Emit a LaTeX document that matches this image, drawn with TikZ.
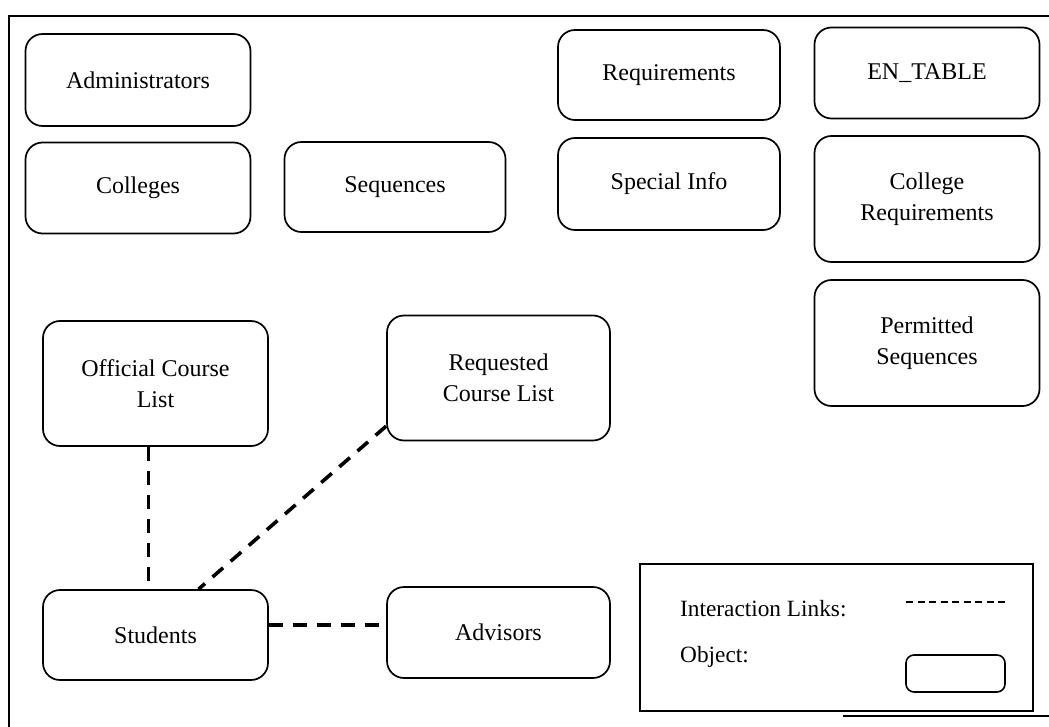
\documentclass[tikz,border=0pt]{standalone}
\usepackage{fontspec}
\setmainfont{Liberation Serif}
\usetikzlibrary{calc}

\tikzset{
  obj/.style={draw, line width=1.7pt, rectangle, rounded corners=17pt,
    align=center, font=\fontsize{24}{30.5}\selectfont, inner sep=0pt},
  link/.style={line width=3.6pt, dash pattern=on 14pt off 10pt},
  frameline/.style={line width=1.7pt},
  legendtext/.style={anchor=west, inner sep=0pt, font=\fontsize{23.3}{28}\selectfont},
}

\begin{document}
\begin{tikzpicture}[x=1pt,y=-1pt]
  \useasboundingbox (0,0) rectangle (1049,727);

  % page frame
  \draw[frameline] (9,727) -- (9,16) -- (1049,16);
  \draw[frameline] (843,716) -- (1049,716);

  % objects
  \node[obj, minimum width=225pt, minimum height=92pt] (adm) at (138,80) {Administrators};
  \node[obj, minimum width=225pt, minimum height=91pt] (col) at (138,188) {Colleges};
  \node[obj, minimum width=221pt, minimum height=90pt] (seq) at (395,187) {Sequences};
  \node[obj, minimum width=222pt, minimum height=90pt] (req) at (669,75) {Requirements};
  \node[obj, minimum width=222pt, minimum height=92pt] (spi) at (669,184) {Special Info};
  \node[obj, minimum width=225pt, minimum height=91pt] (ent) at (927,73) {EN\_TABLE};
  \node[obj, minimum width=225pt, minimum height=126pt] (creq) at (927,199) {College\\Requirements};
  \node[obj, minimum width=225pt, minimum height=126pt] (pseq) at (927,343) {Permitted\\Sequences};
  \node[obj, minimum width=225pt, minimum height=125pt] (ocl) at (155.5,383.5) {Official Course\\List};
  \node[obj, minimum width=223pt, minimum height=125pt] (rcl) at (498.5,378) {Requested\\Course List};
  \node[obj, minimum width=225pt, minimum height=90pt] (stu) at (155.5,635) {Students};
  \node[obj, minimum width=223pt, minimum height=91pt] (adv) at (498.5,632.5) {Advisors};

  % interaction links
  \draw[link] ($(ocl.south)+(-7,0)$) -- ($(stu.north)+(-7,0)$);
  \draw[link] ($(rcl.south west)!0.12!(rcl.north west)$) -- ($(stu.north west)!0.69!(stu.north east)$);
  \draw[link] ($(stu.east)+(0,-10)$) -- ($(adv.west)+(0,-7.5)$);

  % legend
  \node[draw, line width=1.7pt, rectangle, minimum width=393pt, minimum height=147pt, inner sep=0pt] (legend) at (836.5,637.5) {};
  \node[legendtext] (lt1) at (680,609) {Interaction Links:};
  \node[legendtext] (lt2) at (680,657) {Object:};
  \coordinate (ls) at (906,602);
  \coordinate (le) at (1005,602);
  \draw[line width=2pt, dash pattern=on 7pt off 4.5pt] (ls) -- (le);
  \node[draw, line width=1.6pt, rectangle, rounded corners=8pt, minimum width=99pt, minimum height=37pt, inner sep=0pt] (lobj) at (955.5,673.5) {};
\end{tikzpicture}
\end{document}
